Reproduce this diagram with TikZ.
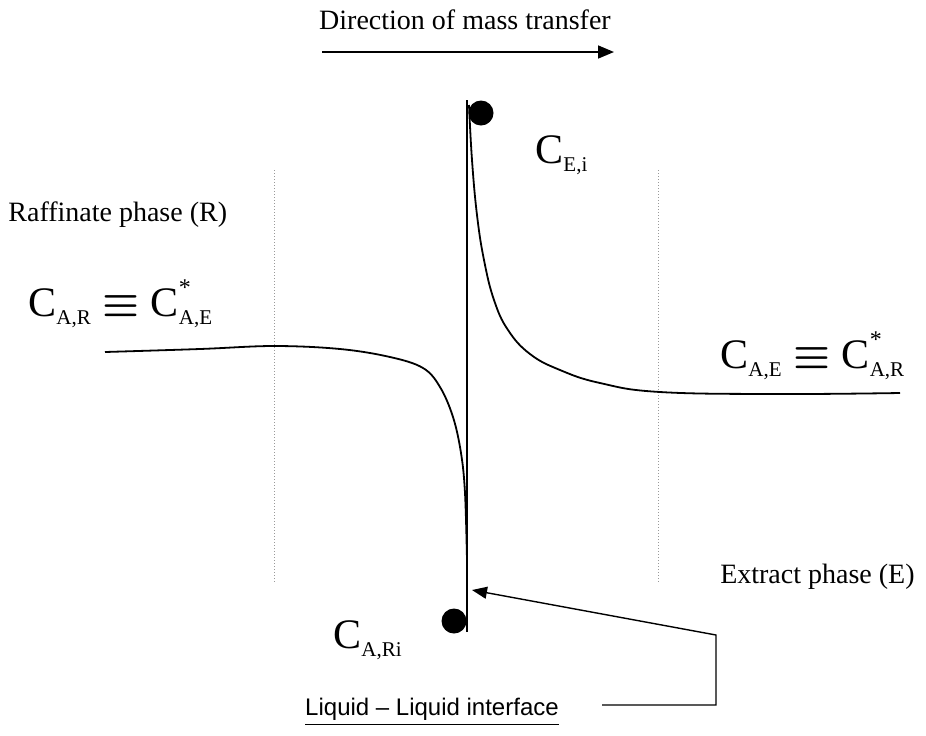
\documentclass[tikz,border=0pt]{standalone}
\usepackage{amsmath}
\usepackage{fontspec}
\setmainfont{Liberation Serif}
\newfontfamily\ifacefont{Liberation Sans}
\usetikzlibrary{arrows.meta}
% Concentrations : grand C, indice, etoile
\newcommand{\Cgr}{{\fontsize{21}{23}\selectfont C}}
\newcommand{\Cind}[1]{\raisebox{-0.9ex}{\fontsize{10.5}{12}\selectfont #1}}
\newcommand{\Cet}[1]{\rlap{\raisebox{2.2ex}{\fontsize{12}{13}\selectfont *}}\Cind{#1}}
\newcommand{\Ceq}{{\fontsize{20}{22}\selectfont$\;\boldsymbol{\equiv}\;$}}
\begin{document}
\begin{tikzpicture}[x=0.5pt,y=-0.5pt,
	txt/.style={font=\fontsize{14}{16}\selectfont,inner sep=0pt},
	conc/.style={inner sep=0pt,anchor=base west},
	courbe/.style={line width=0.9pt,black},
	pointille/.style={densely dotted,line width=0.5pt,gray!80},
	fleche/.style={line width=0.8pt,-{Triangle[length=8pt,width=6.5pt]}},
	pastille/.style={circle,fill=black,inner sep=0pt,minimum size=12.5pt}]
	\useasboundingbox (0,0) rectangle (926,735);
	% Sens du transfert
	\node[txt] (sens) at (465,20) {Direction of mass transfer};
	\coordinate (sensA) at (322,52);
	\coordinate (sensB) at (614,52);
	\draw[fleche] (sensA) -- (sensB);
	%
	% Limites des films (pointilles)
	\foreach \xf/\nom in {274/g,658/d}{
		\coordinate (film\nom H) at (\xf,170);
		\coordinate (film\nom B) at (\xf,582);
		\draw[pointille] (film\nom H) -- (film\nom B);
	};
	%
	% Interface
	\coordinate (intH) at (467,100);
	\coordinate (intB) at (467,632);
	\draw[line width=0.9pt] (intH) -- (intB);
	\node[pastille] (ptE) at (481,113) {};
	\node[pastille] (ptR) at (454,621) {};
	%
	% Profils de concentration
	\draw[courbe] plot[smooth,tension=0.6] coordinates {(105,352) (200,349) (274,346) (340,349) (390,357) (423,368) (440,387) (453,417) (461,453) (465,493) (467,560)};
	\draw[courbe] plot[smooth,tension=0.7] coordinates {(469,105) (472,160) (477,215) (484,260) (494,300) (508,330) (530,354) (560,370) (600,383) (660,392) (780,394) (900,393)};
	%
	% Legendes
	\node[txt,anchor=west] (raff) at (8,215) {Raffinate phase (R)};
	\node[txt,anchor=east] (extr) at (915,577) {Extract phase (E)};
	\node[conc] (cAR) at (28,316) {\Cgr\Cind{A,R}\Ceq\Cgr\Cet{A,E}};
	\node[conc] (cAE) at (720,368) {\Cgr\Cind{A,E}\Ceq\Cgr\Cet{A,R}};
	\node[conc] (cEi) at (535,163) {\Cgr\Cind{E,i}};
	\node[conc] (cARi) at (333,648) {\Cgr\Cind{A,Ri}};
	%
	% Renvoi vers l'interface
	\node[inner sep=0pt,font=\ifacefont\fontsize{12}{14}\selectfont] (iface) at (432,712) {\underline{Liquid \textendash{} Liquid interface}};
	\coordinate (renvA) at (602,705);
	\coordinate (renvB) at (716,705);
	\coordinate (renvC) at (716,635);
	\coordinate (renvD) at (472,590);
	\draw[line width=0.7pt,-{Triangle[length=7.5pt,width=6pt]}] (renvA) -- (renvB) -- (renvC) -- (renvD);
\end{tikzpicture}
\end{document}
